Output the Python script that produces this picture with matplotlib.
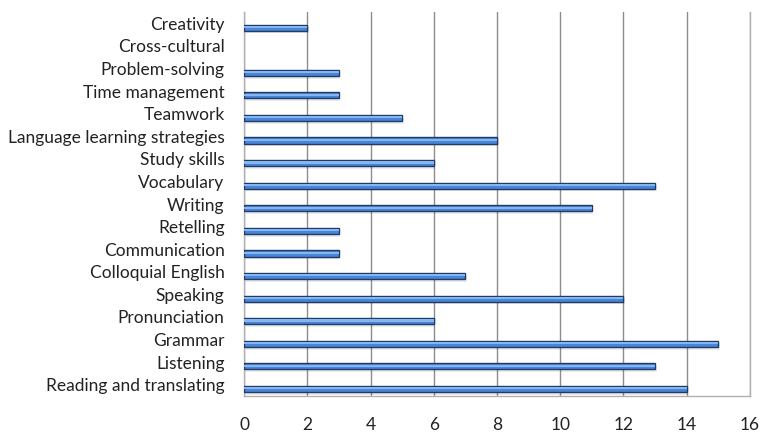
import matplotlib
matplotlib.use("Agg")
import matplotlib.pyplot as plt
import numpy as np

categories = ["Reading and translating", "Listening", "Grammar", "Pronunciation",
              "Speaking", "Colloquial English", "Communication", "Retelling",
              "Writing", "Vocabulary", "Study skills", "Language learning strategies",
              "Teamwork", "Time management", "Problem-solving", "Cross-cultural",
              "Creativity"]
values = [14, 13, 15, 6, 12, 7, 3, 3, 11, 13, 6, 8, 5, 3, 3, 0, 2]
xticks = [0, 2, 4, 6, 8, 10, 12, 14, 16]

plt.rcParams['font.family'] = ['Lato', 'DejaVu Sans']

fig = plt.figure(figsize=(7.66, 4.33), dpi=100)
ax = fig.add_axes([244/766, 1-396/433, (750-244)/766, (396-12)/433])

y = np.arange(len(categories))
off = -0.19
h = 0.27
lw = [1.0 if v > 0 else 0 for v in values]
# shadow
ax.barh(y + off - 0.12, values, height=h, color='#000000', alpha=0.08, zorder=2, left=0.05)
ax.barh(y + off, values, height=h, color='#4a86d8', edgecolor='#1f3b66', linewidth=lw, zorder=3)
ax.barh(y + off + 0.03, values, height=h*0.35, color='#86b6f0', linewidth=0, zorder=4)

ax.set_xlim(0, 16)
ax.set_ylim(-0.5, len(categories) - 0.5)
ax.set_xticks(xticks)
ax.set_xticklabels([str(t) for t in xticks], fontsize=12.5, color='#222222')
ax.set_yticks(y)
ax.set_yticklabels(categories, fontsize=12.5, color='#222222')
ax.tick_params(axis='both', length=0)
ax.tick_params(axis='x', pad=15)
ax.tick_params(axis='y', pad=14)
ax.xaxis.grid(True, color='#8c8c8c', linewidth=1.0, zorder=0)
ax.set_axisbelow(True)
for s in ['left', 'right', 'bottom']:
    ax.spines[s].set_color('#b0b0b0')
    ax.spines[s].set_linewidth(1.0)
ax.spines['top'].set_visible(False)

fig.savefig("out.png", dpi=100)
